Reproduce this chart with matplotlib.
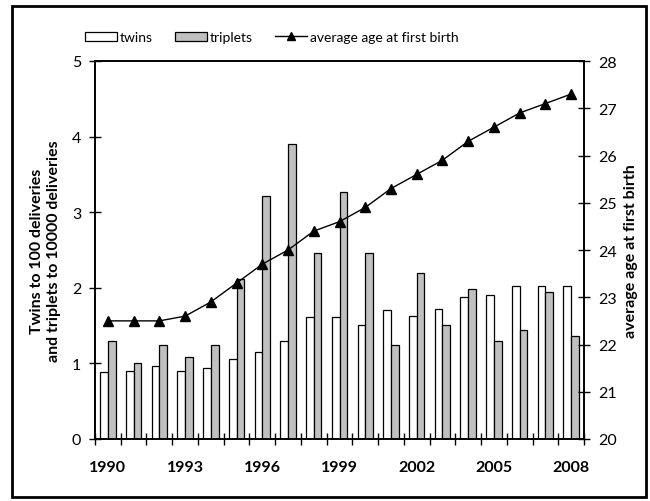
import matplotlib.pyplot as plt
import numpy as np
from matplotlib.patches import Rectangle

plt.rcParams['font.family'] = ['Lato', 'DejaVu Sans']

# data
years = list(range(1990, 2009))
twins = [0.89, 0.90, 0.96, 0.90, 0.94, 1.06, 1.15, 1.30, 1.62, 1.62,
         1.51, 1.70, 1.63, 1.72, 1.88, 1.91, 2.03, 2.03, 2.03]
triplets = [1.30, 1.01, 1.24, 1.08, 1.24, 2.11, 3.22, 3.90, 2.46, 3.27,
            2.46, 1.24, 2.20, 1.51, 1.99, 1.29, 1.44, 1.95, 1.36]
avg_age = [22.5, 22.5, 22.5, 22.6, 22.9, 23.3, 23.7, 24.0, 24.4, 24.6,
           24.9, 25.3, 25.6, 25.9, 26.3, 26.6, 26.9, 27.1, 27.3]
year_labels = ["1990", "1993", "1996", "1999", "2002", "2005", "2008"]

fig = plt.figure(figsize=(6.5, 5.02), dpi=100)
ax = fig.add_axes([95 / 650, 1 - 440 / 502, 489 / 650, 378 / 502])
ax2 = ax.twinx()

x = np.arange(len(years))
w = 0.3
b1 = ax.bar(x - w / 2, twins, w, color="white", edgecolor="black", linewidth=0.9, label="twins")
b2 = ax.bar(x + w / 2, triplets, w, color="#c0c0c0", edgecolor="black", linewidth=0.9, label="triplets")
l1, = ax2.plot(x, avg_age, color="black", lw=1, marker="^", markersize=7,
               label="average age at first birth")

ax.set_xlim(-0.5, len(years) - 0.5)
ax.set_ylim(0, 5)
ax2.set_ylim(20, 28)

# ticks between categories, labels every third year
ax.set_xticks(np.arange(-0.5, len(years), 1))
ax.set_xticklabels([])
ax.set_xticks(np.arange(0, len(years), 3), minor=True)
ax.set_xticklabels(year_labels, minor=True, fontweight="bold", fontsize=11.5)
ax.tick_params(axis="x", which="major", direction="inout", length=8, width=1)
ax.tick_params(axis="x", which="minor", length=0, pad=15)

ax.set_yticks(range(0, 6))
ax.tick_params(axis="y", direction="inout", length=8, width=1, labelsize=11.5, pad=6)
ax2.set_yticks(range(20, 29))
ax2.tick_params(axis="y", direction="inout", length=8, width=1, labelsize=11.5, pad=6)

for sp in ax.spines.values():
    sp.set_linewidth(1.2)
for sp in ax2.spines.values():
    sp.set_linewidth(1.2)

ax.set_ylabel("Twins to 100 deliveries\nand triplets to 10000 deliveries",
              fontweight="bold", fontsize=11.5, labelpad=8, multialignment="center")
ax2.set_ylabel("average age at first birth", fontweight="bold", fontsize=11.5, labelpad=5)

leg = fig.legend([b1, b2, l1], ["twins", "triplets", "average age at first birth"],
                 loc="center", bbox_to_anchor=(272 / 650, 1 - 38 / 502), ncol=3, frameon=False,
                 fontsize=10, handlelength=2.3, handleheight=0.6, columnspacing=1.6,
                 handletextpad=0.2, markerscale=0.75)

# outer frame
fig.patches.append(Rectangle((12 / 650, 1 - 498 / 502), 634 / 650, 491 / 502,
                             transform=fig.transFigure, fill=False,
                             edgecolor="black", linewidth=2))

fig.savefig("out.png", dpi=100)
